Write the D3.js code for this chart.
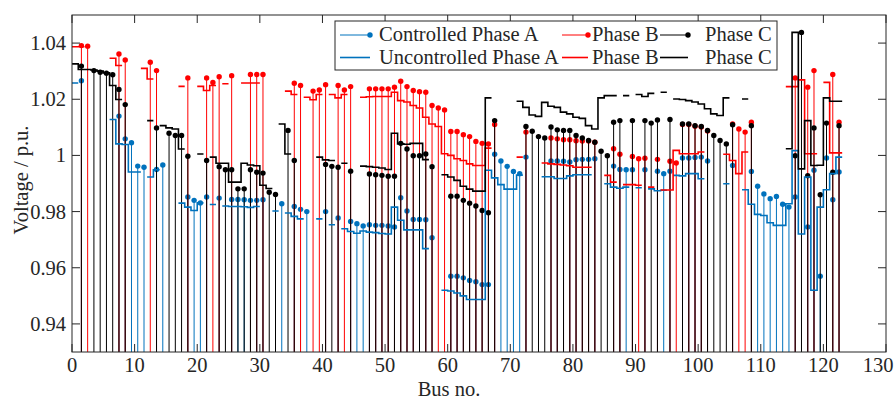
<!DOCTYPE html>
<html><head><meta charset="utf-8">
<script src="https://cdn.jsdelivr.net/npm/d3@7"></script>
<style>body{margin:0;background:#fff}svg{display:block}text{font-family:"Liberation Serif","Times New Roman",serif;fill:#262626}</style>
</head><body><svg id="c" width="896" height="401"></svg>
<script>
const busNo = [1,2,3,4,5,6,7,8,9,10,11,12,13,14,15,16,17,18,19,20,21,22,23,24,25,26,27,28,29,30,
31,32,33,34,35,36,37,38,39,40,41,42,43,44,45,46,47,48,49,50,51,52,53,54,55,56,57,58,59,60,
61,62,63,64,65,66,67,68,69,70,71,72,73,74,75,76,77,78,79,80,81,82,83,84,85,86,87,88,89,90,
91,92,93,94,95,96,97,98,99,100,101,102,103,104,105,106,107,108,109,110,111,112,113,114,115,116,117,118,119,120,121,122,123];

const ctrlA = [1.0266,null,null,null,null,null,1.014,1.0059,1.0045,0.9962,
0.9958,null,0.995,0.9966,null,null,null,0.9852,0.984,0.9831,
0.9852,null,0.9848,null,0.9843,0.9843,0.9842,0.984,0.984,0.9842,
null,null,0.9828,null,0.9818,0.9808,0.980,null,null,0.980,
null,0.9777,null,0.9765,0.9757,0.9749,0.9753,0.9751,0.9751,0.9749,
0.9745,0.9849,0.9802,0.9772,0.9772,0.9771,0.9707,null,null,0.957,
0.957,0.9564,0.9555,0.955,0.954,0.954,1.0004,0.998,0.9961,0.9943,
0.9935,0.9994,null,null,null,0.998,0.998,0.9979,0.9977,0.9985,
0.9986,0.9986,0.9988,null,null,0.9962,0.995,0.9949,0.9949,null,
0.9949,null,0.9944,0.9935,0.9944,null,0.9991,0.9991,0.9993,0.9994,
0.998,null,null,null,0.9964,null,null,0.9943,0.989,0.9863,
0.9846,0.9854,0.9826,0.9816,0.9852,null,0.9745,0.9947,0.957,0.9991,
0.9842,0.9941,null];

const ctrlB = [1.0391,1.0389,null,null,null,null,1.0361,1.034,null,null,
null,1.0332,1.0302,null,null,null,null,1.0276,null,null,
1.0276,1.026,1.028,null,1.0284,null,null,1.0288,1.0288,1.0288,
null,null,null,null,1.0257,1.0249,null,1.0229,1.0233,1.0252,
null,1.0249,1.0233,1.0245,null,null,1.0237,1.0237,1.0237,1.0237,
1.0243,1.0264,1.0245,1.0231,1.0227,1.0225,1.0178,1.0169,1.0162,1.0085,
1.0085,1.0074,1.0067,1.005,1.0043,1.0041,1.011,null,null,null,
null,1.0083,null,null,null,1.0062,1.0059,1.0056,1.0056,1.0052,
1.0051,1.0051,1.0047,null,null,1.0024,1.0004,null,0.9996,0.9988,
0.999,null,0.9986,null,0.9979,0.9973,1.011,1.011,1.0104,1.0101,
1.0087,null,null,null,1.0112,1.0094,1.0083,1.0118,null,null,
null,null,null,null,1.0276,null,1.0243,1.0302,null,null,
1.0288,1.0118,null];

const ctrlC = [1.0318,null,1.0302,1.0296,1.0293,1.0287,1.0235,1.0181,null,null,
null,null,1.0098,null,1.0079,1.0071,1.0071,0.9997,null,null,
0.9982,null,0.996,0.9949,0.9949,0.9881,0.9881,0.9949,0.994,0.9937,
0.9869,0.9861,null,1.0089,0.9982,null,null,null,null,0.9968,
0.9961,0.9958,null,0.9944,null,null,0.9934,0.9931,0.9929,0.9926,
0.9926,1.0043,1.0023,0.9999,0.9999,1.0005,0.996,null,null,0.9855,
0.9855,0.984,0.983,0.982,0.9804,0.9796,1.0124,null,null,null,
null,1.0103,1.0086,1.0067,1.0062,1.0101,1.0091,1.0089,1.0089,1.0071,
1.0062,1.0053,1.0047,1.0015,0.9999,1.0118,1.0124,null,1.0124,null,
1.0124,1.0115,1.0126,null,1.0128,null,1.0112,1.0112,1.0106,1.0103,
1.0089,1.0071,1.0053,1.0041,1.0109,null,null,1.0106,null,null,
null,null,null,null,0.9999,1.0438,0.9928,1.0098,0.986,1.0115,
0.994,1.0106,null];

const uncA = [1.0258,null,null,null,null,null,1.0128,1.0041,1.0039,0.9941,
0.9941,null,0.9923,0.9949,null,null,null,0.983,0.9816,0.9804,
0.9831,null,0.9825,null,0.982,0.9818,0.9818,0.9817,0.9815,0.9818,
null,null,0.9802,null,0.9795,0.9783,0.9774,null,null,0.9774,
null,0.9753,null,0.9739,0.9729,0.9723,0.9731,0.9727,0.9725,0.9722,
0.972,0.9816,0.9769,0.9735,0.9735,0.9735,0.9668,null,null,0.952,
0.9517,0.951,0.950,0.9487,0.9487,0.9487,0.9947,0.992,0.9896,0.988,
0.988,0.993,null,null,null,0.9924,0.9924,0.9918,0.9918,0.9927,
0.9931,0.9931,0.9931,null,null,0.9899,0.9887,0.9883,0.9887,null,
0.9885,null,0.9881,0.9874,0.9876,null,0.9929,0.9927,0.9935,0.9935,
0.9917,null,null,null,0.9899,null,null,0.9878,0.9826,0.979,
0.9786,0.976,0.9751,0.9751,0.9828,1.0017,0.972,0.9923,0.952,0.9816,
0.9878,0.9935,0.9994];

const uncB = [1.0387,1.0387,null,null,null,null,1.0346,1.032,null,null,
null,1.031,1.0272,null,null,null,null,1.0246,null,null,
1.0246,1.0231,1.0249,null,1.0255,null,null,1.0258,1.0258,1.0258,
null,null,null,null,1.0229,1.0217,null,1.0207,1.0198,1.0217,
null,1.0217,1.0205,1.0217,null,null,1.0207,1.0209,1.021,1.021,
1.021,1.0225,1.0195,1.019,1.0178,1.0169,1.0136,1.0112,1.0103,1.0006,
1.0,0.9988,0.9982,0.997,0.9964,0.9964,1.0026,null,null,null,
null,0.9994,null,null,null,0.9973,0.997,0.9968,0.9966,0.9963,
0.9958,0.9958,0.9958,null,null,0.9929,0.9905,null,0.9896,0.9896,
0.9894,null,0.9887,null,0.9877,0.9877,1.0018,1.0006,1.0006,1.0006,
1.0012,null,null,null,1.0004,0.9982,0.9935,1.0012,null,null,
null,null,null,null,1.0245,1.0245,1.0269,1.0006,1.0006,null,
1.026,1.0009,1.0009];

const uncC = [1.0326,1.0306,1.0306,1.0304,1.0300,1.0294,1.0249,1.0199,null,null,
null,null,1.0124,null,1.0106,1.0098,1.0094,1.0023,null,null,
1.0005,null,0.9994,0.9972,0.9972,0.9905,0.9905,0.9972,0.9966,0.9963,
0.9894,0.9882,null,1.0112,1.0005,null,null,null,null,0.9994,
0.9984,0.9982,null,0.9972,null,null,0.9962,0.996,0.9958,0.9955,
0.995,1.0079,1.0041,1.004,1.0043,1.0043,0.9985,null,null,0.9931,
0.9923,0.9911,0.989,0.988,0.9873,0.9873,1.0205,null,null,null,
null,1.0193,1.0171,1.0144,1.0139,1.0189,1.0175,1.0171,1.0154,1.0148,
1.0136,1.0132,1.0106,1.0094,1.0205,1.0213,1.0213,null,1.0213,null,
1.0217,1.021,1.0221,null,1.0225,null,1.0201,1.0199,1.0195,1.019,
1.0183,1.0166,1.0148,1.0142,1.0205,null,null,1.0201,null,null,
null,null,null,null,1.0024,1.0438,0.9952,1.0124,0.9964,0.9965,
1.0205,1.0193,1.0193];

const xTicks = [0,10,20,30,40,50,60,70,80,90,100,110,120,130];
const yTicks = [0.94,0.96,0.98,1.00,1.02,1.04];
const yTickLabels = ["0.94","0.96","0.98","1","1.02","1.04"];
const legendLabels = ["Controlled Phase A","Phase B","Phase C","Uncontrolled Phase A","Phase B","Phase C"];

const colA = "#0072BD", colB = "#FF0000", colC = "#000000", axCol = "#262626";
const L = 72, R = 886, T = 15, B = 352;
const svg = d3.select("#c");
const x = d3.scaleLinear().domain([0,130]).range([L,R]);
const y = d3.scaleLinear().domain([0.93,1.05]).range([B,T]);

svg.append("defs").append("clipPath").attr("id","clip")
  .append("rect").attr("x",L).attr("y",T).attr("width",R-L).attr("height",B-T);
const plot = svg.append("g").attr("clip-path","url(#clip)");

function stems(vals, col){
  const g = plot.append("g");
  busNo.forEach((b,i)=>{
    const v = vals[i]; if(v==null) return;
    const px = x(b+0.5);
    g.append("line").attr("x1",px).attr("x2",px).attr("y1",B+2).attr("y2",y(v))
      .attr("stroke",col).attr("stroke-width",1);
  });
  busNo.forEach((b,i)=>{
    const v = vals[i]; if(v==null) return;
    g.append("circle").attr("cx",x(b+0.5)).attr("cy",y(v)).attr("r",2.7).attr("fill",col);
  });
}
function stairs(vals, col){
  let d = "";
  busNo.forEach((b,i)=>{
    const v = vals[i]; if(v==null) return;
    const prev = i>0 ? vals[i-1] : null;
    if(prev==null) d += `M${x(b-1)},${y(v)}`;
    else d += `L${x(b-1)},${y(v)}`;
    d += `L${x(b)},${y(v)}`;
  });
  plot.append("path").attr("d",d).attr("fill","none").attr("stroke",col).attr("stroke-width",1.6);
}
stems(ctrlA,colA); stems(ctrlB,colB); stems(ctrlC,colC);
stairs(uncA,colA); stairs(uncB,colB); stairs(uncC,colC);

// axes box
const ax = svg.append("g");
ax.append("rect").attr("x",L).attr("y",T).attr("width",R-L).attr("height",B-T)
  .attr("fill","none").attr("stroke",axCol).attr("stroke-width",1);
const tl = 8;
xTicks.forEach(t=>{
  const px = x(t);
  ax.append("line").attr("x1",px).attr("x2",px).attr("y1",B).attr("y2",B-tl).attr("stroke",axCol);
  ax.append("line").attr("x1",px).attr("x2",px).attr("y1",T).attr("y2",T+tl).attr("stroke",axCol);
  ax.append("text").attr("x",Math.min(px, 878)).attr("y",372).attr("text-anchor","middle")
    .attr("font-size",20.5).text(t);
});
yTicks.forEach((t,i)=>{
  const py = y(t);
  ax.append("line").attr("x1",L).attr("x2",L+tl).attr("y1",py).attr("y2",py).attr("stroke",axCol);
  ax.append("line").attr("x1",R).attr("x2",R-tl).attr("y1",py).attr("y2",py).attr("stroke",axCol);
  ax.append("text").attr("x",66).attr("y",py+7).attr("text-anchor","end")
    .attr("font-size",20.5).text(yTickLabels[i]);
});
svg.append("text").attr("x",449).attr("y",396).attr("text-anchor","middle")
  .attr("font-size",20.5).text("Bus no.");
svg.append("text").attr("transform","translate(28,180) rotate(-90)").attr("text-anchor","middle")
  .attr("font-size",20.5).text("Voltage / p.u.");

// legend
const lg = svg.append("g");
lg.append("rect").attr("x",335).attr("y",21).attr("width",442).attr("height",49)
  .attr("fill","#fff").attr("stroke",axCol).attr("stroke-width",1);
const cols = [{x0:340,x1:370,tx:379},{x0:562,x1:588,tx:592},{x0:660,x1:688,tx:705}];
const colors = [colA,colB,colC];
[0,1].forEach(r=>{
  const ly = r===0 ? 35 : 57.5;
  const ty = r===0 ? 41 : 64;
  cols.forEach((c,j)=>{
    lg.append("line").attr("x1",c.x0).attr("x2",c.x1).attr("y1",ly).attr("y2",ly)
      .attr("stroke",colors[j]).attr("stroke-width",r===0?1:1.6);
    if(r===0) lg.append("circle").attr("cx",c.x1).attr("cy",ly).attr("r",2.7).attr("fill",colors[j]);
    lg.append("text").attr("x",c.tx).attr("y",ty).attr("font-size",20.5).text(legendLabels[r*3+j]);
  });
});
</script></body></html>
